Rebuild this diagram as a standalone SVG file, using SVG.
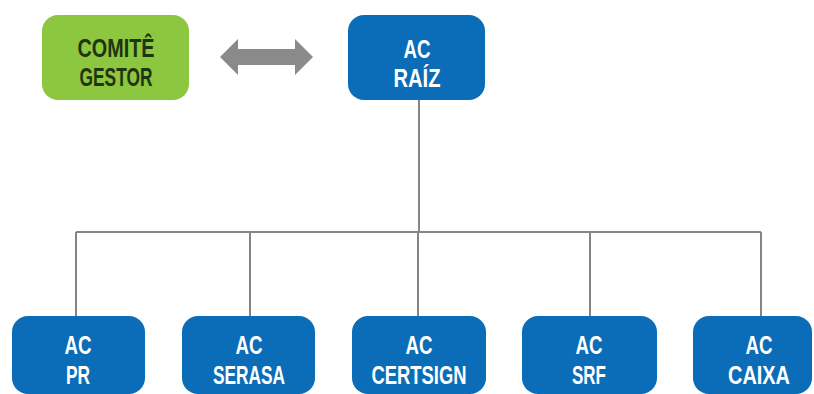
<svg xmlns="http://www.w3.org/2000/svg" width="814" height="394" viewBox="0 0 814 394">
<style>
.bx{fill:#0b6db7}
.gr{fill:#8dc63f}
.t{font-family:"Liberation Sans",Arial,sans-serif;font-weight:bold;font-size:25px;text-anchor:middle;fill:#ffffff}
.tg{fill:#1e3510}
.ln{stroke:#858585;stroke-width:2;fill:none}
</style>
<rect width="814" height="394" fill="#ffffff"/>
<g id="connectors">
<path class="ln" d="M419 100V232M76 232H761M76 232V316M250 232V316M418 232V316M590 232V316M761 232V316"/>
<polygon fill="#8a8a8a" points="220,57 238,39 238,49 295,49 295,39 313,57 295,75 295,65 238,65 238,75"/>
</g>
<g id="comite">
<rect class="gr" x="42" y="15" width="147" height="85" rx="16"/>
<text class="t tg" x="116" y="57" textLength="77" lengthAdjust="spacingAndGlyphs">COMITÊ</text>
<text class="t tg" x="116" y="86" textLength="73" lengthAdjust="spacingAndGlyphs">GESTOR</text>
</g>
<g id="raiz">
<rect class="bx" x="348" y="15" width="137" height="85" rx="16"/>
<text class="t" x="417" y="58" textLength="27" lengthAdjust="spacingAndGlyphs">AC</text>
<text class="t" x="417" y="87" textLength="47" lengthAdjust="spacingAndGlyphs">RAÍZ</text>
</g>
<g id="pr">
<rect class="bx" x="12" y="316" width="133" height="78" rx="16"/>
<text class="t" x="78" y="354" textLength="27" lengthAdjust="spacingAndGlyphs">AC</text>
<text class="t" x="78" y="384" textLength="24" lengthAdjust="spacingAndGlyphs">PR</text>
</g>
<g id="serasa">
<rect class="bx" x="182" y="316" width="133" height="78" rx="16"/>
<text class="t" x="249" y="354" textLength="27" lengthAdjust="spacingAndGlyphs">AC</text>
<text class="t" x="249" y="384" textLength="72" lengthAdjust="spacingAndGlyphs">SERASA</text>
</g>
<g id="certsign">
<rect class="bx" x="352" y="316" width="134" height="78" rx="16"/>
<text class="t" x="419" y="354" textLength="27" lengthAdjust="spacingAndGlyphs">AC</text>
<text class="t" x="419" y="384" textLength="95" lengthAdjust="spacingAndGlyphs">CERTSIGN</text>
</g>
<g id="srf">
<rect class="bx" x="522" y="316" width="135" height="78" rx="16"/>
<text class="t" x="589" y="354" textLength="27" lengthAdjust="spacingAndGlyphs">AC</text>
<text class="t" x="589" y="384" textLength="34" lengthAdjust="spacingAndGlyphs">SRF</text>
</g>
<g id="caixa">
<rect class="bx" x="693" y="316" width="119" height="78" rx="16"/>
<text class="t" x="759" y="354" textLength="27" lengthAdjust="spacingAndGlyphs">AC</text>
<text class="t" x="759" y="384" textLength="62" lengthAdjust="spacingAndGlyphs">CAIXA</text>
</g>
</svg>
